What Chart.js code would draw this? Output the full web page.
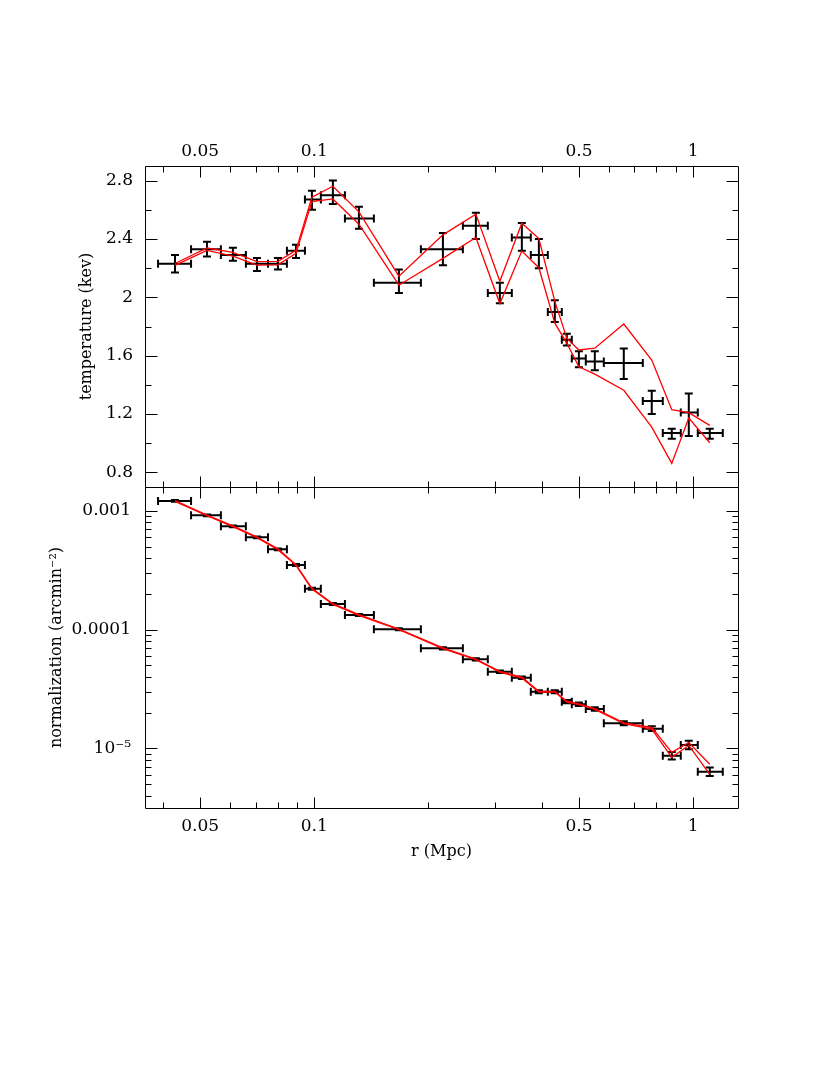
<!DOCTYPE html>
<html>
<head>
<meta charset="utf-8">
<title>temperature and normalization profile</title>
<script src="https://cdn.jsdelivr.net/npm/chart.js@4.4.1/dist/chart.umd.min.js"></script>
<style>
body{margin:0;background:#fff;}
#wrap{position:relative;width:830px;height:1075px;background:#fff;}
#topChart{position:absolute;left:0;top:0;}
#botChart{position:absolute;left:0;top:470px;}
</style>
</head>
<body>
<div id="wrap">
<canvas id="topChart" width="830" height="500"></canvas>
<canvas id="botChart" width="830" height="605"></canvas>
</div>
<script>
//=============================
// DATA
//=============================

// radial bins (Mpc)
const rMid = [0.0429,0.0521,0.0610,0.0706,0.0802,0.0895,0.0986,0.1120,0.1312,0.1673,0.2186,0.2671,0.3090,0.3532,0.3917,0.4316,0.4642,0.4995,0.5503,0.6563,0.7779,0.8786,0.9743,1.1067];
const rLo  = [0.0387,0.0473,0.0567,0.0660,0.0755,0.0847,0.0945,0.1041,0.1205,0.1437,0.1912,0.2468,0.2872,0.3323,0.3730,0.4136,0.4503,0.4785,0.5210,0.5813,0.7367,0.8319,0.9280,1.0290];
const rHi  = [0.0473,0.0567,0.0660,0.0755,0.0847,0.0945,0.1041,0.1205,0.1437,0.1912,0.2468,0.2872,0.3323,0.3730,0.4136,0.4503,0.4785,0.5210,0.5813,0.7367,0.8319,0.9280,1.0290,1.1978];

// temperature (keV)
const temp   = [2.23,2.33,2.29,2.23,2.23,2.32,2.67,2.70,2.54,2.10,2.33,2.49,2.03,2.41,2.29,1.90,1.71,1.58,1.56,1.55,1.29,1.07,1.21,1.07];
const tempLo = [2.17,2.28,2.25,2.18,2.19,2.27,2.60,2.64,2.47,2.03,2.22,2.40,1.96,2.32,2.20,1.83,1.67,1.52,1.50,1.44,1.20,1.03,1.05,1.03];
const tempHi = [2.29,2.38,2.34,2.27,2.27,2.36,2.73,2.80,2.62,2.19,2.44,2.58,2.10,2.51,2.40,1.98,1.75,1.63,1.63,1.65,1.36,1.10,1.34,1.10];

// temperature model band
const tModelHi = [2.232,2.338,2.308,2.244,2.246,2.322,2.686,2.761,2.586,2.145,2.428,2.570,2.110,2.508,2.403,1.972,1.720,1.639,1.651,1.817,1.570,1.230,1.210,1.122];
const tModelLo = [2.219,2.322,2.283,2.221,2.223,2.301,2.656,2.674,2.501,2.083,2.267,2.410,1.957,2.317,2.203,1.823,1.686,1.524,1.474,1.363,1.110,0.862,1.172,1.003];

// normalization (arcmin^-2)
const norm   = [1.208e-3,9.15e-4,7.39e-4,5.97e-4,4.73e-4,3.49e-4,2.205e-4,1.639e-4,1.325e-4,1.004e-4,6.95e-5,5.61e-5,4.41e-5,3.93e-5,2.995e-5,2.995e-5,2.468e-5,2.347e-5,2.142e-5,1.623e-5,1.462e-5,8.66e-6,1.066e-5,6.35e-6];
const normLo = [1.19e-3,9.0e-4,7.28e-4,5.87e-4,4.64e-4,3.42e-4,2.16e-4,1.61e-4,1.30e-4,0.985e-4,6.8e-5,5.48e-5,4.30e-5,3.83e-5,2.91e-5,2.91e-5,2.39e-5,2.27e-5,2.07e-5,1.56e-5,1.40e-5,8.05e-6,9.8e-6,5.85e-6];
const normHi = [1.23e-3,9.3e-4,7.5e-4,6.07e-4,4.82e-4,3.56e-4,2.25e-4,1.67e-4,1.35e-4,1.025e-4,7.1e-5,5.74e-5,4.52e-5,4.03e-5,3.08e-5,3.08e-5,2.55e-5,2.43e-5,2.22e-5,1.69e-5,1.53e-5,9.30e-6,1.16e-5,6.88e-6];

// normalization model band
const nModelHi = [1.22e-3,9.2e-4,7.45e-4,6.0e-4,4.78e-4,3.52e-4,2.22e-4,1.65e-4,1.335e-4,1.01e-4,7.0e-5,5.65e-5,4.45e-5,3.97e-5,3.02e-5,3.02e-5,2.49e-5,2.37e-5,2.16e-5,1.64e-5,1.50e-5,9.25e-6,1.12e-5,7.33e-6];
const nModelLo = [1.20e-3,9.1e-4,7.35e-4,5.94e-4,4.70e-4,3.47e-4,2.19e-4,1.63e-4,1.318e-4,0.998e-4,6.92e-5,5.58e-5,4.38e-5,3.90e-5,2.98e-5,2.98e-5,2.45e-5,2.33e-5,2.13e-5,1.61e-5,1.45e-5,8.40e-6,1.06e-5,6.04e-6];

// ticks
const rTicks = [0.05,0.1,0.5,1];
const rMinor = [0.04,0.06,0.07,0.08,0.09,0.2,0.3,0.4,0.6,0.7,0.8,0.9];
const tTicks = [0.8,1.2,1.6,2,2.4,2.8];
const tMinor = [1,1.4,1.8,2.2,2.6];
const nTicks = [1e-5,1e-4,1e-3];
const nTickLabels = ["10⁻⁵","0.0001","0.001"];
const nMinor = [4e-6,5e-6,6e-6,7e-6,8e-6,9e-6,2e-5,3e-5,4e-5,5e-5,6e-5,7e-5,8e-5,9e-5,2e-4,3e-4,4e-4,5e-4,6e-4,7e-4,8e-4,9e-4];

const rMin = 0.03575, rMax = 1.314;

//=============================
// DEFAULTS
//=============================

Chart.defaults.font.family = "'DejaVu Serif', serif";
Chart.defaults.font.size = 16;
Chart.defaults.color = "#000";

const tickFont = {size:17};

//=============================
// PLUGINS
//=============================

// black error crosses, drawn under the red model lines
function errorBars(yMid, yLo, yHi){

    return {
        id:"errorBars",
        beforeDatasetsDraw(chart){
            const ctx = chart.ctx;
            const xs = chart.scales.x, ys = chart.scales.y;
            const cap = 4;
            ctx.save();
            ctx.strokeStyle = "#000";
            ctx.lineWidth = 2;
            ctx.beginPath();
            rMid.forEach((r,i)=>{
                const x0 = xs.getPixelForValue(rLo[i]);
                const x1 = xs.getPixelForValue(rHi[i]);
                const xm = xs.getPixelForValue(r);
                const y = ys.getPixelForValue(yMid[i]);
                const yl = ys.getPixelForValue(yLo[i]);
                const yh = ys.getPixelForValue(yHi[i]);
                ctx.moveTo(x0,y); ctx.lineTo(x1,y);
                ctx.moveTo(x0,y-cap); ctx.lineTo(x0,y+cap);
                ctx.moveTo(x1,y-cap); ctx.lineTo(x1,y+cap);
                ctx.moveTo(xm,yl); ctx.lineTo(xm,yh);
                ctx.moveTo(xm-cap,yl); ctx.lineTo(xm+cap,yl);
                ctx.moveTo(xm-cap,yh); ctx.lineTo(xm+cap,yh);
            });
            ctx.stroke();
            ctx.restore();
        }
    };

}

// box round the plot with inward ticks on all four sides
function frameTicks(xMinor, yMinor){

    return {
        id:"frameTicks",
        afterDraw(chart){
            const ctx = chart.ctx;
            const a = chart.chartArea;
            const xs = chart.scales.x, ys = chart.scales.y;
            const L = Math.round(a.left)+0.5, R = Math.round(a.right)+0.5;
            const T = Math.round(a.top)+0.5, B = Math.round(a.bottom)+0.5;
            ctx.save();
            ctx.strokeStyle = "#000";
            ctx.lineWidth = 1;
            ctx.beginPath();
            const xTick = (v,len)=>{
                const p = Math.round(xs.getPixelForValue(v))+0.5;
                ctx.moveTo(p,T); ctx.lineTo(p,T+len);
                ctx.moveTo(p,B); ctx.lineTo(p,B-len);
            };
            const yTick = (v,len)=>{
                const p = Math.round(ys.getPixelForValue(v))+0.5;
                ctx.moveTo(L,p); ctx.lineTo(L+len,p);
                ctx.moveTo(R,p); ctx.lineTo(R-len,p);
            };
            xs.ticks.forEach(t=>xTick(t.value,11));
            xMinor.forEach(v=>xTick(v,6));
            ys.ticks.forEach(t=>yTick(t.value,12));
            yMinor.forEach(v=>yTick(v,6));
            ctx.rect(L,T,R-L,B-T);
            ctx.stroke();
            ctx.restore();
        }
    };

}

function modelLine(ys){
    return {
        type:"line",
        data: rMid.map((r,i)=>({x:r,y:ys[i]})),
        borderColor:"#ff0000",
        borderWidth:1.3,
        pointRadius:0,
        fill:false,
        tension:0
    };
}

// pin an axis box to a fixed size and drop the label overhang padding
function pinBox(w, h){
    return function(s){
        if(w !== null) s.width = w;
        if(h !== null) s.height = h;
        s.paddingTop = 0; s.paddingBottom = 0;
        s.paddingLeft = 0; s.paddingRight = 0;
    };
}

//=============================
// TOP PANEL : TEMPERATURE
//=============================

new Chart(document.getElementById("topChart"),{

type:"scatter",

data:{
datasets:[
modelLine(tModelHi),
modelLine(tModelLo)
]
},

options:{

responsive:false,
animation:false,
events:[],
layout:{padding:{left:0,right:92,top:0,bottom:13}},
plugins:{legend:{display:false},tooltip:{enabled:false}},

scales:{

x:{
type:"logarithmic",
position:"top",
min:rMin,
max:rMax,
afterFit:pinBox(null,166),
afterBuildTicks(s){ s.ticks = rTicks.map(v=>({value:v})); },
ticks:{autoSkip:false,maxRotation:0,padding:4,font:tickFont,callback:(v)=>String(v)},
grid:{display:false,drawTicks:false},
border:{display:false}
},

y:{
type:"linear",
position:"left",
min:0.7,
max:2.9,
afterFit:pinBox(145,null),
afterBuildTicks(s){ s.ticks = tTicks.map(v=>({value:v})); },
ticks:{autoSkip:false,padding:12,font:tickFont,callback:(v)=>String(v)},
grid:{display:false,drawTicks:false},
border:{display:false},
title:{display:true,text:"temperature (kev)",padding:{top:77,bottom:0}}
}

}

},

plugins:[errorBars(temp,tempLo,tempHi),frameTicks(rMinor,tMinor)]

});

//=============================
// BOTTOM PANEL : NORMALIZATION
//=============================

new Chart(document.getElementById("botChart"),{

type:"scatter",

data:{
datasets:[
modelLine(nModelHi),
modelLine(nModelLo)
]
},

options:{

responsive:false,
animation:false,
events:[],
layout:{padding:{left:0,right:92,top:17,bottom:207}},
plugins:{legend:{display:false},tooltip:{enabled:false}},

scales:{

x:{
type:"logarithmic",
position:"bottom",
min:rMin,
max:rMax,
afterFit:pinBox(null,60),
afterBuildTicks(s){ s.ticks = rTicks.map(v=>({value:v})); },
ticks:{autoSkip:false,maxRotation:0,padding:8,font:tickFont,callback:(v)=>String(v)},
grid:{display:false,drawTicks:false},
border:{display:false},
title:{display:true,text:"r (Mpc)",padding:{top:0,bottom:7}}
},

y:{
type:"logarithmic",
position:"left",
min:3.143e-6,
max:1.585e-3,
afterFit:pinBox(145,null),
afterBuildTicks(s){ s.ticks = nTicks.map(v=>({value:v})); },
ticks:{autoSkip:false,padding:14,font:tickFont,callback:(v,i)=>nTickLabels[i]},
grid:{display:false,drawTicks:false},
border:{display:false},
title:{display:true,text:"normalization (arcmin⁻²)",padding:{top:47,bottom:0}}
}

}

},

plugins:[errorBars(norm,normLo,normHi),frameTicks(rMinor,nMinor)]

});
</script>
</body>
</html>
